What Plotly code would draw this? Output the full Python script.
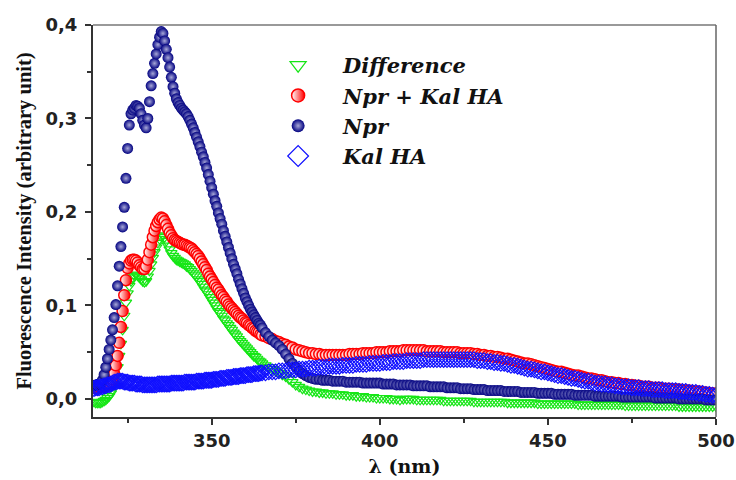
import numpy as np
import plotly.graph_objects as go

# Emission wavelengths (nm): 0.5 nm steps over the peak region, 1 nm steps after
wavelength_fine = np.arange(315.0, 365.0, 0.5)
wavelength_coarse = np.arange(365.0, 501.0, 1.0)
wavelength = np.concatenate([wavelength_fine, wavelength_coarse])

# Npr alone
npr_fine = [
    0.014, 0.015, 0.015, 0.016, 0.017, 0.020, 0.026, 0.034, 0.043, 0.053,
    0.063, 0.074, 0.087, 0.101, 0.121, 0.142, 0.163, 0.184, 0.205, 0.236,
    0.268, 0.293, 0.305, 0.309, 0.311, 0.314, 0.313, 0.311, 0.305, 0.298,
    0.293, 0.290, 0.300, 0.318, 0.335, 0.348, 0.359, 0.369, 0.379, 0.387,
    0.393, 0.391, 0.383, 0.374, 0.365, 0.355, 0.344, 0.334, 0.327, 0.321,
    0.317, 0.314, 0.311, 0.309, 0.307, 0.305, 0.302, 0.298, 0.294, 0.290,
    0.285, 0.280, 0.275, 0.270, 0.264, 0.259, 0.253, 0.247, 0.240, 0.233,
    0.226, 0.219, 0.212, 0.206, 0.199, 0.193, 0.187, 0.180, 0.174, 0.168,
    0.162, 0.156, 0.150, 0.144, 0.139, 0.134, 0.128, 0.123, 0.118, 0.113,
    0.108, 0.104, 0.100, 0.096, 0.093, 0.090, 0.087, 0.084, 0.081, 0.079,
]
npr_coarse = [
    0.076, 0.071, 0.067, 0.063, 0.060, 0.057, 0.053, 0.048, 0.043, 0.038,
    0.034, 0.030, 0.027, 0.025, 0.023, 0.022, 0.021, 0.021, 0.020, 0.020,
    0.020, 0.019, 0.019, 0.019, 0.019, 0.018, 0.018, 0.018, 0.018, 0.018,
    0.017, 0.017, 0.017, 0.017, 0.017, 0.017, 0.016, 0.016, 0.016, 0.016,
    0.015, 0.015, 0.015, 0.015, 0.015, 0.014, 0.014, 0.014, 0.014, 0.014,
    0.013, 0.013, 0.013, 0.013, 0.013, 0.012, 0.012, 0.012, 0.012, 0.011,
    0.011, 0.011, 0.011, 0.010, 0.010, 0.010, 0.010, 0.009, 0.009, 0.009,
    0.009, 0.009, 0.008, 0.008, 0.008, 0.008, 0.008, 0.007, 0.007, 0.007,
    0.007, 0.007, 0.006, 0.006, 0.006, 0.006, 0.006, 0.005, 0.005, 0.005,
    0.005, 0.005, 0.005, 0.004, 0.004, 0.004, 0.004, 0.004, 0.004, 0.003,
    0.003, 0.003, 0.003, 0.003, 0.003, 0.003, 0.003, 0.002, 0.002, 0.002,
    0.002, 0.002, 0.002, 0.002, 0.002, 0.002, 0.002, 0.001, 0.001, 0.001,
    0.001, 0.001, 0.001, 0.001, 0.000, 0.000, 0.000, 0.000, 0.000, 0.000,
    0.000, 0.000, -0.001, -0.001, -0.001, -0.001,
]

# Npr + Kal HA mixture
mix_fine = [
    0.012, 0.012, 0.012, 0.013, 0.013, 0.013, 0.014, 0.014, 0.015, 0.016,
    0.018, 0.021, 0.027, 0.036, 0.046, 0.060, 0.077, 0.094, 0.111, 0.127,
    0.140, 0.145, 0.148, 0.149, 0.149, 0.148, 0.146, 0.143, 0.141, 0.139,
    0.139, 0.142, 0.149, 0.157, 0.165, 0.173, 0.180, 0.185, 0.189, 0.192,
    0.194, 0.193, 0.190, 0.186, 0.182, 0.178, 0.175, 0.172, 0.170, 0.169,
    0.168, 0.167, 0.166, 0.165, 0.165, 0.164, 0.163, 0.162, 0.161, 0.159,
    0.157, 0.155, 0.153, 0.150, 0.147, 0.144, 0.141, 0.138, 0.134, 0.131,
    0.128, 0.125, 0.122, 0.119, 0.117, 0.114, 0.111, 0.109, 0.106, 0.104,
    0.101, 0.099, 0.097, 0.095, 0.093, 0.091, 0.089, 0.087, 0.086, 0.084,
    0.082, 0.081, 0.079, 0.078, 0.076, 0.075, 0.073, 0.072, 0.071, 0.069,
]
mix_coarse = [
    0.068, 0.067, 0.065, 0.064, 0.062, 0.061, 0.059, 0.058, 0.056, 0.055,
    0.053, 0.052, 0.051, 0.050, 0.049, 0.049, 0.048, 0.048, 0.047, 0.047,
    0.047, 0.047, 0.047, 0.047, 0.047, 0.047, 0.048, 0.048, 0.048, 0.048,
    0.049, 0.049, 0.049, 0.049, 0.050, 0.050, 0.050, 0.050, 0.051, 0.051,
    0.051, 0.051, 0.052, 0.052, 0.052, 0.052, 0.052, 0.052, 0.052, 0.051,
    0.051, 0.051, 0.051, 0.051, 0.050, 0.050, 0.050, 0.050, 0.050, 0.049,
    0.049, 0.049, 0.049, 0.048, 0.048, 0.047, 0.047, 0.046, 0.046, 0.045,
    0.045, 0.044, 0.043, 0.043, 0.042, 0.041, 0.040, 0.039, 0.038, 0.038,
    0.037, 0.036, 0.035, 0.034, 0.033, 0.032, 0.031, 0.030, 0.029, 0.029,
    0.028, 0.027, 0.026, 0.025, 0.025, 0.024, 0.023, 0.022, 0.022, 0.021,
    0.020, 0.020, 0.019, 0.018, 0.018, 0.017, 0.017, 0.016, 0.016, 0.015,
    0.015, 0.014, 0.014, 0.013, 0.013, 0.013, 0.012, 0.012, 0.012, 0.011,
    0.011, 0.011, 0.010, 0.010, 0.010, 0.009, 0.009, 0.009, 0.008, 0.008,
    0.008, 0.007, 0.007, 0.006, 0.006, 0.005,
]

# Kal HA alone
kal_fine = [
    0.011, 0.012, 0.012, 0.012, 0.013, 0.013, 0.014, 0.014, 0.015, 0.015,
    0.016, 0.017, 0.018, 0.018, 0.019, 0.019, 0.019, 0.019, 0.018, 0.018,
    0.018, 0.017, 0.017, 0.017, 0.017, 0.016, 0.016, 0.016, 0.016, 0.015,
    0.015, 0.015, 0.015, 0.015, 0.015, 0.015, 0.015, 0.015, 0.016, 0.016,
    0.016, 0.016, 0.016, 0.016, 0.016, 0.016, 0.017, 0.017, 0.017, 0.017,
    0.017, 0.017, 0.017, 0.017, 0.018, 0.018, 0.018, 0.018, 0.018, 0.018,
    0.018, 0.019, 0.019, 0.019, 0.019, 0.019, 0.020, 0.020, 0.020, 0.020,
    0.020, 0.021, 0.021, 0.021, 0.021, 0.022, 0.022, 0.022, 0.022, 0.023,
    0.023, 0.023, 0.023, 0.024, 0.024, 0.024, 0.024, 0.025, 0.025, 0.025,
    0.025, 0.026, 0.026, 0.026, 0.026, 0.027, 0.027, 0.027, 0.027, 0.028,
]
kal_coarse = [
    0.028, 0.028, 0.029, 0.029, 0.029, 0.030, 0.030, 0.030, 0.031, 0.031,
    0.031, 0.032, 0.032, 0.032, 0.033, 0.033, 0.033, 0.034, 0.034, 0.034,
    0.035, 0.035, 0.035, 0.035, 0.036, 0.036, 0.036, 0.036, 0.037, 0.037,
    0.037, 0.037, 0.038, 0.038, 0.038, 0.038, 0.039, 0.039, 0.039, 0.040,
    0.040, 0.040, 0.040, 0.041, 0.041, 0.041, 0.041, 0.041, 0.042, 0.042,
    0.042, 0.042, 0.042, 0.042, 0.042, 0.042, 0.042, 0.042, 0.042, 0.042,
    0.042, 0.042, 0.042, 0.042, 0.041, 0.041, 0.041, 0.040, 0.040, 0.039,
    0.039, 0.038, 0.038, 0.037, 0.036, 0.036, 0.035, 0.034, 0.033, 0.032,
    0.032, 0.031, 0.030, 0.029, 0.029, 0.028, 0.027, 0.026, 0.025, 0.025,
    0.024, 0.023, 0.022, 0.022, 0.021, 0.020, 0.019, 0.019, 0.018, 0.017,
    0.017, 0.016, 0.016, 0.015, 0.015, 0.014, 0.014, 0.013, 0.013, 0.013,
    0.012, 0.012, 0.012, 0.011, 0.011, 0.011, 0.010, 0.010, 0.010, 0.010,
    0.009, 0.009, 0.009, 0.009, 0.008, 0.008, 0.008, 0.007, 0.007, 0.007,
    0.006, 0.006, 0.005, 0.005, 0.004, 0.004,
]

# Difference spectrum (mixture minus Kal HA)
diff_fine = [
    -0.003, -0.004, -0.004, -0.004, -0.004, -0.003, -0.002, -0.001, 0.001, 0.003,
    0.006, 0.010, 0.016, 0.024, 0.034, 0.046, 0.059, 0.074, 0.089, 0.103,
    0.113, 0.121, 0.126, 0.130, 0.132, 0.133, 0.132, 0.130, 0.128, 0.126,
    0.125, 0.126, 0.131, 0.137, 0.144, 0.151, 0.157, 0.162, 0.167, 0.171,
    0.174, 0.175, 0.173, 0.169, 0.164, 0.160, 0.156, 0.153, 0.151, 0.149,
    0.148, 0.147, 0.146, 0.145, 0.144, 0.142, 0.141, 0.139, 0.137, 0.135,
    0.133, 0.131, 0.128, 0.126, 0.123, 0.120, 0.117, 0.115, 0.112, 0.109,
    0.106, 0.103, 0.100, 0.097, 0.094, 0.092, 0.089, 0.086, 0.084, 0.081,
    0.079, 0.076, 0.074, 0.071, 0.069, 0.067, 0.064, 0.062, 0.060, 0.058,
    0.056, 0.054, 0.052, 0.050, 0.048, 0.046, 0.045, 0.043, 0.041, 0.040,
]
diff_coarse = [
    0.038, 0.036, 0.034, 0.032, 0.030, 0.028, 0.026, 0.024, 0.021, 0.018,
    0.015, 0.013, 0.011, 0.010, 0.009, 0.008, 0.008, 0.007, 0.007, 0.006,
    0.006, 0.006, 0.005, 0.005, 0.005, 0.004, 0.004, 0.004, 0.003, 0.003,
    0.003, 0.002, 0.002, 0.002, 0.001, 0.001, 0.001, 0.001, 0.000, 0.000,
    0.000, -0.001, 0.000, 0.000, 0.000, 0.000, -0.001, -0.001, -0.001, -0.001,
    -0.001, -0.001, -0.001, -0.001, -0.002, -0.002, -0.002, -0.002, -0.002, -0.002,
    -0.002, -0.002, -0.002, -0.003, -0.003, -0.003, -0.003, -0.003, -0.003, -0.003,
    -0.003, -0.003, -0.003, -0.004, -0.004, -0.004, -0.004, -0.004, -0.004, -0.004,
    -0.004, -0.004, -0.005, -0.005, -0.005, -0.005, -0.005, -0.005, -0.005, -0.005,
    -0.005, -0.005, -0.005, -0.005, -0.006, -0.006, -0.006, -0.006, -0.006, -0.006,
    -0.006, -0.006, -0.006, -0.006, -0.006, -0.006, -0.006, -0.006, -0.007, -0.007,
    -0.007, -0.007, -0.007, -0.007, -0.007, -0.007, -0.007, -0.007, -0.007, -0.007,
    -0.007, -0.007, -0.007, -0.007, -0.008, -0.008, -0.008, -0.008, -0.008, -0.008,
    -0.008, -0.008, -0.008, -0.008, -0.008, -0.008,
]

npr = npr_fine + npr_coarse
mix = mix_fine + mix_coarse
kal = kal_fine + kal_coarse
diff = diff_fine + diff_coarse
for series in (npr, mix, kal, diff):
    assert len(series) == len(wavelength), len(series)

series_names = ["Difference", "Npr + Kal HA", "Npr", "Kal HA"]

SERIF = "Liberation Serif, Times New Roman, serif"
WIDE_SERIF = "DejaVu Serif, Liberation Serif, serif"
WIDE_SANS = "DejaVu Sans, Liberation Sans, Arial, sans-serif"

GREEN, RED, NAVY, BLUE = "#16e616", "#ff0000", "#000080", "#1010ff"


def marker_style(name, size):
    if name == "Difference":
        return dict(symbol="triangle-down-open", size=size, color=GREEN,
                    line=dict(width=1.2, color=GREEN))
    if name == "Npr + Kal HA":
        return dict(symbol="circle", size=size, color="#ffffff",
                    gradient=dict(type="horizontal", color=RED),
                    line=dict(width=1.5, color=RED))
    if name == "Npr":
        return dict(symbol="circle", size=size, color=NAVY,
                    gradient=dict(type="radial", color="#a8a8d8"),
                    line=dict(width=0))
    return dict(symbol="diamond-open", size=size, color=BLUE,
                line=dict(width=1.2, color=BLUE))


plot_sizes = {"Difference": 10, "Npr + Kal HA": 11, "Npr": 11, "Kal HA": 12}
legend_sizes = {"Difference": 14, "Npr + Kal HA": 13, "Npr": 13, "Kal HA": 16}
values = {"Difference": diff, "Npr + Kal HA": mix, "Npr": npr, "Kal HA": kal}

fig = go.Figure()

# Data markers
for name in series_names:
    fig.add_trace(go.Scatter(
        x=wavelength, y=values[name], mode="markers", name=name,
        legendgroup=name, showlegend=False,
        marker=marker_style(name, plot_sizes[name]),
    ))

# Legend entries with larger symbols
for name in series_names:
    fig.add_trace(go.Scatter(
        x=[None], y=[None], mode="markers", name=name,
        legendgroup=name, showlegend=True,
        marker=marker_style(name, legend_sizes[name]),
    ))

axis_common = dict(
    showline=True, linecolor="#333333", linewidth=2,
    ticks="outside", ticklen=6, tickwidth=1.5, tickcolor="#333333",
    showgrid=False, zeroline=False, automargin=False,
    tickfont=dict(family=WIDE_SANS, size=18, color="#222222", weight="bold"),
)

fig.update_xaxes(
    range=[314.7, 500], tick0=350, dtick=50,
    minor=dict(dtick=25, ticks="outside", ticklen=4, tickwidth=1.5, tickcolor="#333333"),
    title=dict(text="λ (nm)", font=dict(family=WIDE_SERIF, size=19, color="#111111", weight="bold"),
               standoff=10),
    **axis_common,
)
fig.update_yaxes(
    range=[-0.0193, 0.4], tick0=0, dtick=0.1, tickformat=".1f",
    minor=dict(dtick=0.05, ticks="outside", ticklen=4, tickwidth=1.5, tickcolor="#333333"),
    title=dict(text="Fluorescence Intensity (arbitrary unit)",
               font=dict(family=SERIF, size=20.5, color="#111111", weight="bold"), standoff=8),
    ticklabelstandoff=4,
    **axis_common,
)

# Thin frame along the top and right edges of the plotting area
fig.add_shape(type="line", xref="paper", yref="paper", x0=0, x1=1, y0=1, y1=1,
              line=dict(color="#777777", width=1.5))
fig.add_shape(type="line", xref="paper", yref="paper", x0=1, x1=1, y0=0, y1=1,
              line=dict(color="#666666", width=1.5))

fig.update_layout(
    width=736, height=480,
    margin=dict(l=93, r=20, t=25, b=63),
    paper_bgcolor="white", plot_bgcolor="white",
    separators=", ",
    showlegend=True,
    legend=dict(
        x=0.257, y=0.949, xanchor="left", yanchor="top",
        bgcolor="rgba(0,0,0,0)", borderwidth=0,
        font=dict(family=WIDE_SERIF, size=21, color="#111111", weight="bold", style="italic"),
        itemwidth=80, tracegroupgap=0,
    ),
)

fig.write_html("out.html")
